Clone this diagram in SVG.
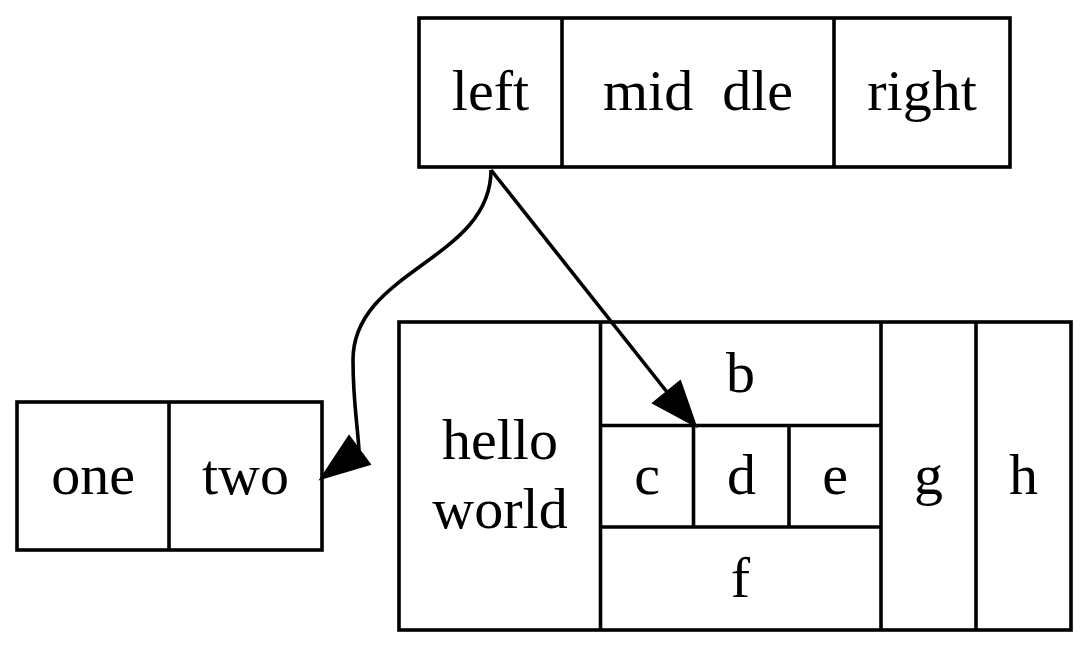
<svg xmlns="http://www.w3.org/2000/svg" width="1091" height="650" viewBox="0 0 1091 650">
<style>
.box{fill:none;stroke:#000;stroke-width:3.6}
.ln{stroke:#000;stroke-width:3.6;fill:none}
.t{font-family:"Liberation Serif","Times New Roman",serif;font-size:58px;text-anchor:middle;fill:#000}
.edge{stroke:#000;stroke-width:3.6;fill:none}
.head{fill:#000;stroke:#000;stroke-width:3}
</style>
<rect width="1091" height="650" fill="#fff"/>
<g id="struct1">
<rect class="box" x="419" y="18" width="591" height="149"/>
<line class="ln" x1="562" y1="18" x2="562" y2="167"/>
<line class="ln" x1="834" y1="18" x2="834" y2="167"/>
<text class="t" x="490.5" y="110">left</text>
<text class="t" x="698" y="110" xml:space="preserve">mid  dle</text>
<text class="t" x="922" y="110">right</text>
</g>
<g id="struct2">
<rect class="box" x="17" y="402" width="305" height="148"/>
<line class="ln" x1="169" y1="402" x2="169" y2="550"/>
<text class="t" x="93" y="494">one</text>
<text class="t" x="245.5" y="494">two</text>
</g>
<g id="struct3">
<rect class="box" x="399" y="322" width="672" height="308"/>
<line class="ln" x1="600.5" y1="322" x2="600.5" y2="630"/>
<line class="ln" x1="881" y1="322" x2="881" y2="630"/>
<line class="ln" x1="976" y1="322" x2="976" y2="630"/>
<line class="ln" x1="600.5" y1="425.5" x2="881" y2="425.5"/>
<line class="ln" x1="600.5" y1="527" x2="881" y2="527"/>
<line class="ln" x1="693.5" y1="425.5" x2="693.5" y2="527"/>
<line class="ln" x1="789" y1="425.5" x2="789" y2="527"/>
<text class="t" x="500" y="459">hello</text>
<text class="t" x="500" y="528">world</text>
<text class="t" x="740.5" y="392">b</text>
<text class="t" x="647" y="494">c</text>
<text class="t" x="741.5" y="494">d</text>
<text class="t" x="835" y="494">e</text>
<text class="t" x="740.5" y="597">f</text>
<text class="t" x="928.5" y="494">g</text>
<text class="t" x="1023.5" y="494">h</text>
</g>
<g id="edges">
<path class="edge" d="M491,170 C491,260 353,270 353,360 C353,400 357,420 359,450"/>
<polygon class="head" points="349,437 369,464 322,478"/>
<path class="edge" d="M491,170 L667,392"/>
<polygon class="head" points="680,382 654,403 695,425"/>
</g>
</svg>
